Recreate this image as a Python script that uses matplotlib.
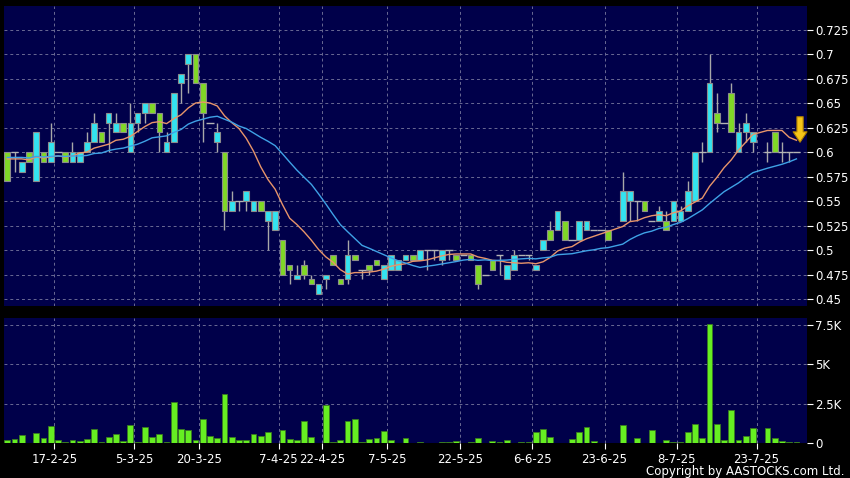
import numpy as np
import pandas as pd
import matplotlib
matplotlib.use('Agg')
import matplotlib.pyplot as plt

nan = np.nan

# daily OHLC, one slot per trading day (nan = no candle drawn)
opens = [
    .60, .60, .58, .60, .57, .60, .59, .60, .60, .59,
    .59, .60, .61, .62, .63, .62, .63, .60, .63, .64,
    .65, .64, .60, .61, .67, .69, .70, .67, .63, .61,
    .60, .54, .55, .55, .54, .55, .53, .52, .51, .485,
    .47, .485, .47, .455, .47, .495, .47, .47, .495, .48,
    .485, .49, .47, .48, .48, .49, .495, .49, .50, .50,
    .49, .50, .495, .495, .495, .485, .475, .49, .495, .47,
    .48, .495, .495, .48, .50, .52, .52, .53, .51, .51,
    .52, .52, .52, .52, nan, .53, .55, .55, .55, .53,
    .53, .53, .53, .53, .54, .55, .60, .60, .64, .63,
    .66, .60, .62, .61, nan, .60, .62, .60, .60, .60,
]
highs = [
    .60, .60, .59, .60, .62, .60, .63, .60, .60, .61,
    .60, .62, .64, .62, .64, .64, .63, .65, .64, .65,
    .65, .64, .62, .66, .68, .70, .70, .67, .63, .63,
    .60, .56, .55, .56, .55, .55, .54, .54, .51, .485,
    .485, .49, .475, .465, .475, .495, .47, .51, .495, .48,
    .485, .49, .485, .495, .49, .495, .495, .50, .50, .50,
    .50, .50, .495, .495, .495, .485, .475, .49, .495, .485,
    .50, .495, .495, .485, .51, .53, .54, .53, .51, .53,
    .53, .52, .52, .52, nan, .58, .56, .55, .55, .53,
    .545, .54, .55, .545, .57, .60, .61, .70, .66, .63,
    .67, .63, .64, .62, nan, .61, .62, .61, .60, .60,
]
lows = [
    .57, .58, .58, .59, .57, .59, .59, .60, .59, .59,
    .59, .60, .61, .61, .60, .62, .62, .60, .62, .63,
    .64, .60, .60, .61, .65, .66, .67, .61, .63, .60,
    .52, .54, .54, .54, .54, .54, .50, .52, .475, .465,
    .47, .47, .465, .455, .46, .485, .465, .465, .49, .47,
    .475, .485, .47, .48, .48, .49, .49, .49, .48, .49,
    .485, .49, .49, .495, .49, .46, .475, .48, .475, .47,
    .48, .495, .49, .48, .50, .51, .52, .51, .51, .51,
    .52, .52, .52, .51, nan, .53, .53, .53, .54, .53,
    .53, .52, .53, .53, .54, .55, .59, .60, .62, .63,
    .62, .60, .61, .60, nan, .59, .60, .59, .59, .60,
]
closes = [
    .57, .60, .59, .59, .62, .59, .61, .60, .59, .60,
    .60, .61, .63, .61, .64, .63, .62, .63, .64, .65,
    .64, .62, .61, .66, .68, .70, .67, .64, .63, .62,
    .54, .55, .55, .56, .55, .54, .54, .54, .475, .48,
    .475, .475, .465, .465, .475, .485, .465, .495, .49, .48,
    .48, .485, .485, .495, .49, .495, .49, .50, .50, .50,
    .50, .50, .49, .495, .49, .465, .475, .48, .495, .485,
    .495, .495, .495, .485, .51, .51, .54, .51, .51, .53,
    .53, .52, .52, .51, nan, .56, .56, .55, .54, .53,
    .54, .52, .55, .54, .56, .60, .60, .67, .63, .63,
    .62, .62, .63, .62, nan, .60, .60, .60, .60, .60,
]
# closes before the window, only used to seed the moving averages
pre_close = [.60, .59, .60, .59, .60, .60, .59, .60, .59, .60,
             .60, .59, .60, .59, .60, .60, .59, .60, .59]

volume = [
    214, 256, 491, 0, 641, 299, 1111, 171, 85, 192,
    107, 235, 897, 85, 406, 598, 107, 1175, 43, 1004,
    406, 598, 43, 2585, 919, 812, 171, 1496, 470, 320,
    3098, 406, 171, 171, 598, 449, 705, 0, 855, 256,
    192, 1410, 406, 0, 2415, 64, 214, 1368, 1517, 85,
    278, 320, 748, 171, 0, 320, 0, 85, 20, 20,
    64, 64, 150, 20, 85, 320, 0, 150, 85, 171,
    0, 85, 85, 726, 919, 363, 0, 0, 278, 726,
    1026, 128, 0, 0, 0, 1154, 0, 320, 0, 812,
    0, 171, 64, 85, 726, 1239, 320, 7564, 1239, 192,
    2073, 192, 427, 983, 0, 983, 320, 150, 40, 40,
]

date_pos = [6.5, 17.5, 26.5, 37.5, 43.5, 52.5, 62.5, 72.5, 82.5, 92.5, 103.5]
date_labels = ['17-2-25', '5-3-25', '20-3-25', '7-4-25', '22-4-25', '7-5-25',
               '22-5-25', '6-6-25', '23-6-25', '8-7-25', '23-7-25']
price_ticks = [0.45, 0.475, 0.5, 0.525, 0.55, 0.575, 0.6, 0.625, 0.65, 0.675, 0.7, 0.725]
vol_ticks = [0, 2500, 5000, 7500]
vol_labels = ['0', '2.5K', '5K', '7.5K']

BG = '#00004a'
GRID = '#6a6a94'
UP = '#33e3f0'
DOWN = '#80d826'

o = np.array(opens, float)
h = np.array(highs, float)
l = np.array(lows, float)
c = np.array(closes, float)
v = np.array(volume, float)
x = np.arange(len(c))

fig = plt.figure(figsize=(8.5, 4.78), dpi=100, facecolor='black')
ax = fig.add_axes([4/850, 172/478, 803/850, 300/478], facecolor=BG)
axv = fig.add_axes([4/850, 35/478, 803/850, 125/478], facecolor=BG, sharex=ax)

# candles
up = c > o
dn = c < o
flat = c == o
ax.vlines(x, l, h, color='#a8a8a8', lw=1, zorder=2)
ax.bar(x[up], (c - o)[up], bottom=o[up], width=0.78, color=UP,
       edgecolor='#8c8c8c', lw=0.8, zorder=3)
ax.bar(x[dn], (o - c)[dn], bottom=c[dn], width=0.78, color=DOWN,
       edgecolor='#8c8c8c', lw=0.8, zorder=3)
ax.hlines(c[flat], x[flat] - 0.5, x[flat] + 0.5, color='#b4b4b4', lw=1, zorder=3)

# moving averages of close
valid = ~np.isnan(c)
s = pd.Series(np.r_[pre_close, c[valid]])
ma10 = s.rolling(10).mean().values[len(pre_close):]
ma20 = s.rolling(20).mean().values[len(pre_close):]
ax.plot(x[valid], ma10, color='#e8956a', lw=1, zorder=4)
ax.plot(x[valid], ma20, color='#3fa2e6', lw=1, zorder=4)

# arrow marker at the last bar
ax.annotate('', xy=(109.5, 0.610), xytext=(109.5, 0.636),
            arrowprops=dict(arrowstyle='simple,head_length=0.75,head_width=1.0,tail_width=0.45',
                            fc='#f5c518', ec='#b08000', lw=0.8, shrinkA=0, shrinkB=0),
            zorder=6)

# volume
m = v > 0
axv.bar(x[m], v[m], width=0.8, color='#66ee22', edgecolor='#3a7a20', lw=0.6, zorder=3)

ax.set_xlim(-0.456, 110.46)
ax.set_ylim(0.4429, 0.749)
axv.set_ylim(0, 7945)

for a in (ax, axv):
    for sp in a.spines.values():
        sp.set_visible(False)
    a.yaxis.tick_right()
    a.tick_params(axis='y', colors='white', length=4, width=0.8, pad=2, labelsize=8.5)
    a.set_xticks(date_pos)
    a.grid(True, color=GRID, ls=(0, (3, 3)), lw=0.7)
    a.set_axisbelow(True)

ax.set_yticks(price_ticks)
ax.set_yticklabels(['%g' % t for t in price_ticks])
ax.tick_params(axis='x', length=0, labelbottom=False)

axv.set_yticks(vol_ticks)
axv.set_yticklabels(vol_labels)
axv.set_xticklabels(date_labels)
axv.tick_params(axis='x', colors='white', length=4, width=0.8, pad=3, labelsize=8.5)

fig.text(0.994, 7/478, 'Copyright by AASTOCKS.com Ltd.', ha='right', va='center',
         color='white', fontsize=8.5)

fig.savefig('out.png', dpi=100, facecolor='black')
